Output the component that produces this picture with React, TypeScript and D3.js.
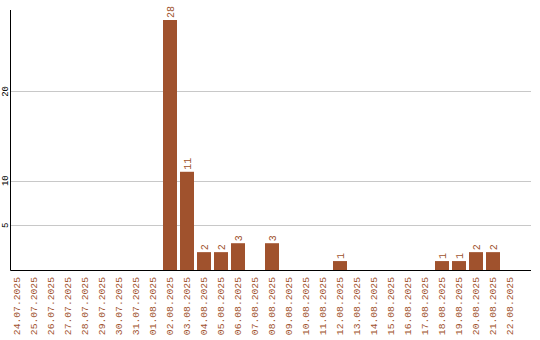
import React from "react";
import * as d3 from "d3";

const dates = [
  "24.07.2025", "25.07.2025", "26.07.2025", "27.07.2025", "28.07.2025",
  "29.07.2025", "30.07.2025", "31.07.2025", "01.08.2025", "02.08.2025",
  "03.08.2025", "04.08.2025", "05.08.2025", "06.08.2025", "07.08.2025",
  "08.08.2025", "09.08.2025", "10.08.2025", "11.08.2025", "12.08.2025",
  "13.08.2025", "14.08.2025", "15.08.2025", "16.08.2025", "17.08.2025",
  "18.08.2025", "19.08.2025", "20.08.2025", "21.08.2025", "22.08.2025",
];
const counts = [
  0, 0, 0, 0, 0, 0, 0, 0, 0, 28,
  11, 2, 2, 3, 0, 3, 0, 0, 0, 1,
  0, 0, 0, 0, 0, 1, 1, 2, 2, 0,
];
const yTicks = [5, 10, 20];

const W = 540;
const H = 340;
const COLOR = "#A0522D";
const FONT = "'Liberation Mono', 'DejaVu Sans Mono', monospace";

export default function App() {
  const x = d3.scaleBand<string>().domain(dates).range([10, 517]).paddingInner(3 / 17).paddingOuter(0);
  const y = d3.scaleLinear().domain([0, 28]).range([270, 20]);
  const left = 10.5;
  const right = 531;
  const base = 270.5;

  return (
    <svg width={W} height={H} style={{ position: "absolute", left: 0, top: 0, background: "#fff" }}>
      {yTicks.map((t) => (
        <g key={t}>
          <line x1={left} x2={right} y1={Math.round(y(t)) + 0.5} y2={Math.round(y(t)) + 0.5} stroke="#c8c8c8" strokeWidth={1} />
          <text
            transform={`translate(5,${y(t)}) rotate(-90)`}
            textAnchor="middle"
            dy="0.35em"
            fontFamily={FONT}
            fontSize={9}
            fill="#000"
          >
            {t}
          </text>
        </g>
      ))}
      {counts.map((v, i) => {
        if (v <= 0) return null;
        const bx = x(dates[i]) as number;
        return (
          <g key={dates[i]}>
            <rect x={bx} y={y(v)} width={x.bandwidth()} height={270 - y(v)} fill={COLOR} />
            <text
              transform={`translate(${bx + x.bandwidth() / 2},${y(v) - 2}) rotate(-90)`}
              textAnchor="start"
              dy="0.35em"
              fontFamily={FONT}
              fontSize={10}
              fill={COLOR}
            >
              {v}
            </text>
          </g>
        );
      })}
      <line x1={left} x2={left} y1={10} y2={base} stroke="#000" strokeWidth={1} />
      <line x1={left} x2={right} y1={base} y2={base} stroke="#000" strokeWidth={1} />
      {dates.map((d) => (
        <text
          key={d}
          transform={`translate(${(x(d) as number) + x.bandwidth() / 2},277) rotate(-90)`}
          textAnchor="end"
          dy="0.35em"
          fontFamily={FONT}
          fontSize={9.7}
          fill={COLOR}
        >
          {d}
        </text>
      ))}
    </svg>
  );
}
